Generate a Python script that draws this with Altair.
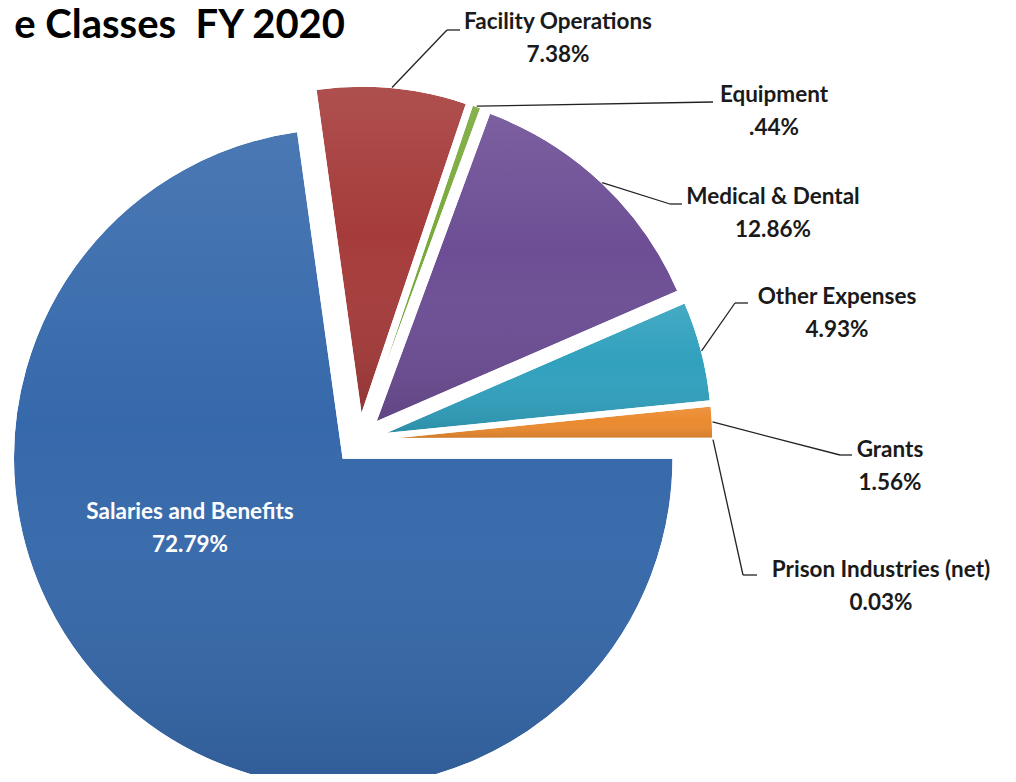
import altair as alt
import pandas as pd

# ---- data ----
categories = ["Salaries and Benefits", "Facility Operations", "Equipment",
              "Medical & Dental", "Other Expenses", "Grants", "Prison Industries (net)"]
pct_values = [72.79, 7.38, 0.44, 12.86, 4.93, 1.56, 0.03]
pct_labels = ["72.79%", "7.38%", ".44%", "12.86%", "4.93%", "1.56%", "0.03%"]
title_text = "e Classes \u00a0FY 2020"

# ---- style / layout (pixels in the svg) ----
colors = ["#3669ab", "#a53c3b", "#79a93b", "#6d4e95", "#31a1be", "#eb8a2f", "#5b7fc0"]
CX, CY = 351, 432          # pie centre
EXPLODE = 24               # explode distance
R = 330                    # pie radius
label_x = [182, 550, 766, 765, 829, 882, 873]
label_y = [504, 14, 87, 189, 289, 442, 562]
elbow_x = [None, 439, 705, 662, 727, 832, 735]
elbow_y = [None, 22, 94, 196, 295, 447, 567]
end_x = [None, 452, 705, 674, 740, 844, 749]
end_y = [None, 22, 94, 196, 295, 447, 567]
FONT = "Lato"
LABEL_SIZE = 22.5

df = pd.DataFrame({
    "idx": list(range(len(categories))),
    "category": categories,
    "pct": pct_values,
    "pct_label": pct_labels,
    "label_x": label_x, "label_y": label_y,
    "elbow_x": elbow_x, "elbow_y": elbow_y,
    "end_x": end_x, "end_y": end_y,
})

base = alt.Chart(df).transform_window(
    cum="sum(pct)", sort=[alt.SortField("idx")], frame=[None, 0]
).transform_joinaggregate(
    total="sum(pct)"
).transform_calculate(
    mid="PI/2 + 2*PI*(datum.cum - datum.pct/2)/datum.total",
).transform_calculate(
    cx=f"{CX} + {EXPLODE}*sin(datum.mid)",
    cy=f"{CY} - {EXPLODE}*cos(datum.mid)",
    sx=f"{CX} + {EXPLODE + R}*sin(datum.mid)",
    sy=f"{CY} - {EXPLODE + R}*cos(datum.mid)",
)

PI = 3.141592653589793
theta_enc = alt.Theta("pct:Q", stack=True, scale=alt.Scale(range=[PI / 2, PI / 2 + 2 * PI]))
pos_x = alt.X("cx:Q", scale=None, axis=None)
pos_y = alt.Y("cy:Q", scale=None, axis=None)

pie = base.mark_arc(radius=R, stroke="white", strokeWidth=1.5).encode(
    theta=theta_enc,
    order=alt.Order("idx:Q"),
    color=alt.Color("category:N", scale=alt.Scale(domain=categories, range=colors), legend=None),
    x=pos_x, y=pos_y,
)

shade = base.mark_arc(
    radius=R, stroke="white", strokeWidth=1.5,
    fill=alt.Gradient(
        gradient="linear", x1=0, x2=0, y1=0, y2=1,
        stops=[alt.GradientStop(color="rgba(255,255,255,0.10)", offset=0),
               alt.GradientStop(color="rgba(255,255,255,0.0)", offset=0.45),
               alt.GradientStop(color="rgba(0,0,0,0.12)", offset=1)],
    ),
).encode(
    theta=theta_enc,
    order=alt.Order("idx:Q"),
    detail="category:N",
    x=pos_x, y=pos_y,
)

leaders = base.transform_filter("isValid(datum.elbow_x)")
seg1 = leaders.mark_rule(color="#222222", strokeWidth=1.3).encode(
    x=alt.X("sx:Q", scale=None), y=alt.Y("sy:Q", scale=None),
    x2="elbow_x:Q", y2="elbow_y:Q",
)
seg2 = leaders.mark_rule(color="#222222", strokeWidth=1.3).encode(
    x=alt.X("elbow_x:Q", scale=None), y=alt.Y("elbow_y:Q", scale=None),
    x2="end_x:Q", y2="end_y:Q",
)

txt_color = alt.condition("datum.idx == 0", alt.value("white"), alt.value("#1a1a1a"))
name_txt = base.mark_text(font=FONT, fontWeight="bold", fontSize=LABEL_SIZE, align="center",
                          baseline="middle").encode(
    x=alt.X("label_x:Q", scale=None), y=alt.Y("label_y:Q", scale=None),
    text="category:N", color=txt_color,
)
pct_txt = base.mark_text(font=FONT, fontWeight="bold", fontSize=LABEL_SIZE, align="center",
                         baseline="middle", yOffset=33).encode(
    x=alt.X("label_x:Q", scale=None), y=alt.Y("label_y:Q", scale=None),
    text="pct_label:N", color=txt_color,
)

title = alt.Chart(pd.DataFrame({"t": [title_text]})).mark_text(
    font=FONT, fontWeight="bold", fontSize=40, align="right", baseline="alphabetic",
    color="black"
).encode(text="t:N", x=alt.value(337), y=alt.value(30))

chart = alt.layer(pie, shade, seg1, seg2, name_txt, pct_txt, title).properties(
    width=1000, height=766, padding=0,
    autosize=alt.AutoSizeParams(type="none"),
).configure_view(strokeWidth=0)

chart.save("out.html", embed_options={"renderer": "svg", "actions": False})
